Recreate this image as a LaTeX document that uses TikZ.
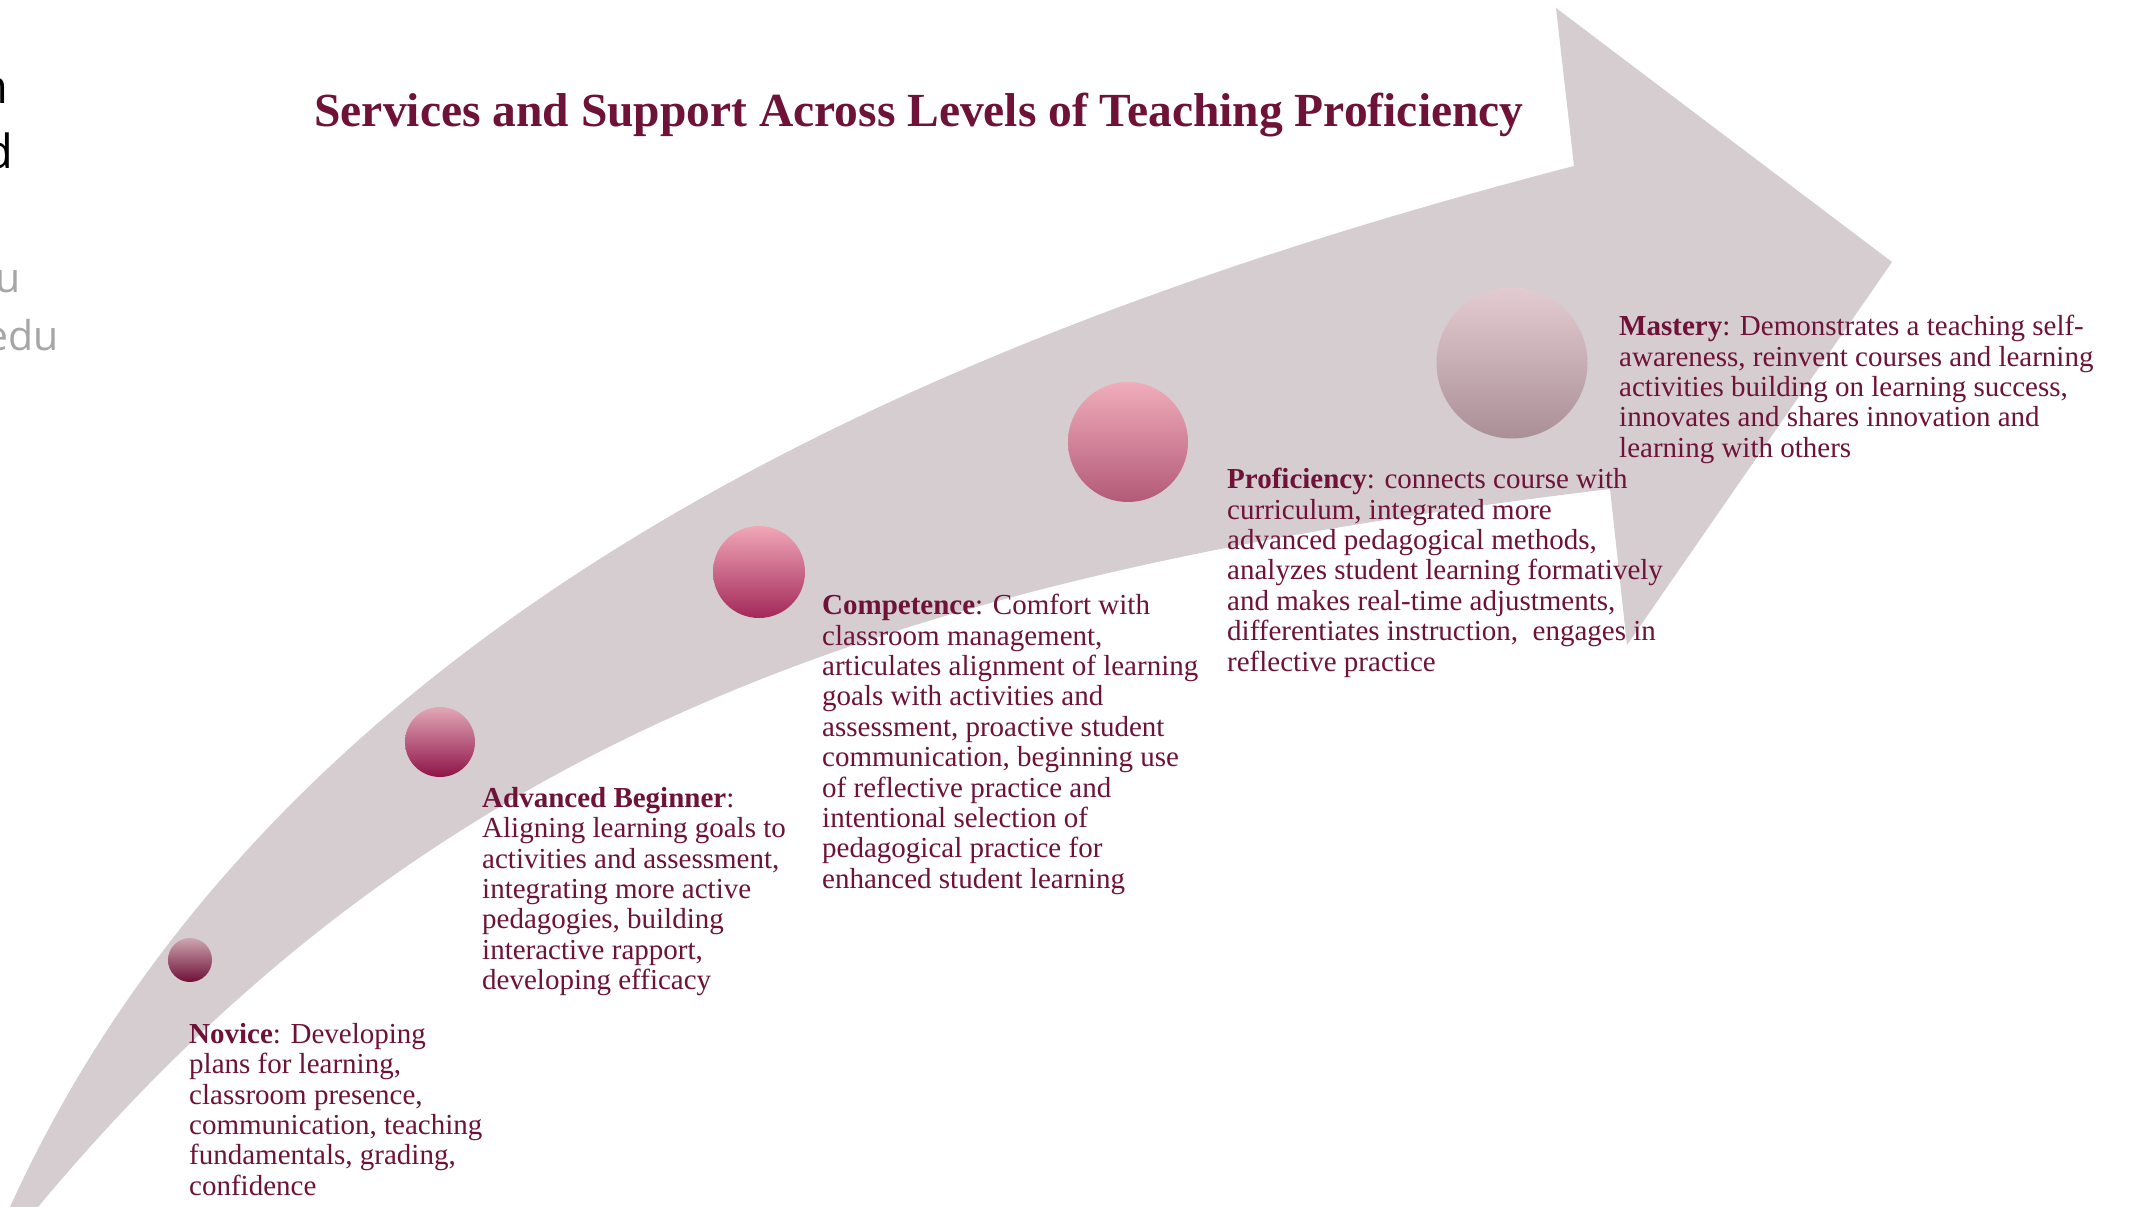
\documentclass[tikz,border=0pt]{standalone}
\usepackage{fontspec}
\setmainfont{Liberation Serif}
\newfontfamily\fragfont{Open Sans}
\usetikzlibrary{positioning}
\definecolor{bandgrey}{HTML}{D5CDD0}
\definecolor{maroontext}{HTML}{6E1237}
\definecolor{fraggrey}{HTML}{A6A6A6}
\definecolor{dotonetop}{HTML}{CDA6B0}
\definecolor{dotonebot}{HTML}{6E0F38}
\definecolor{dottwotop}{HTML}{E2A7B7}
\definecolor{dottwobot}{HTML}{8E1448}
\definecolor{dotthreetop}{HTML}{F0A7B7}
\definecolor{dotthreebot}{HTML}{A3285A}
\definecolor{dotfourtop}{HTML}{F0ADBB}
\definecolor{dotfourbot}{HTML}{B35A78}
\definecolor{dotfivetop}{HTML}{E3CCD1}
\definecolor{dotfivebot}{HTML}{AA8F96}
\tikzset{
  leveltext/.style={anchor=north west, inner sep=0pt, align=left, text=maroontext,
    font=\fontsize{29}{30.4}\selectfont},
  leveldot/.style={circle, inner sep=0pt, draw=none},
  fragblack/.style={anchor=base east, inner sep=0pt, text=black, font=\fragfont\fontsize{47}{47}\selectfont},
  fraggray/.style={anchor=base east, inner sep=0pt, text=fraggrey, font=\fragfont\fontsize{41}{41}\selectfont},
}

\begin{document}
\begin{tikzpicture}[x=1pt, y=-1pt]
  % Page frame
  \useasboundingbox (0,0) rectangle (2131,1207);
  \fill[white] (0,0) rectangle (2131,1207);

  % Clipped text at the left edge
  \node[fragblack] (fragn) at (9,103) {n};
  \node[fragblack] (fragd) at (14,168) {d};
  \node[fraggray] (fragu) at (21,292) {u};
  \node[fraggray] (fragedu) at (59,350) {edu};

  % Curved arrow band with its head
  \fill[bandgrey] (10,1207) .. controls (280,613) and (934,332) .. (1574,166)
    -- (1556,8) -- (1892,262) -- (1627,645) -- (1610,489)
    .. controls (910,573) and (438,727) .. (38,1207) -- cycle;

  % Title
  \node[anchor=base, inner sep=0pt, text=maroontext, font=\fontsize{47.5}{50}\selectfont\bfseries] (title) at (919,126)
    {Services and Support Across Levels of Teaching Proficiency};

  % Level markers
  \node[leveldot, minimum size=44pt, top color=dotonetop, bottom color=dotonebot] (novicedot) at (190,960) {};
  \node[leveldot, minimum size=70pt, top color=dottwotop, bottom color=dottwobot] (advbegdot) at (440,742) {};
  \node[leveldot, minimum size=92pt, top color=dotthreetop, bottom color=dotthreebot] (competdot) at (759,572) {};
  \node[leveldot, minimum size=120pt, top color=dotfourtop, bottom color=dotfourbot] (proficdot) at (1128,442) {};
  \node[leveldot, minimum size=151pt, top color=dotfivetop, bottom color=dotfivebot] (masterydot) at (1512,363) {};

  % Level descriptions
  \node[leveltext] (novice) at (189,1023) {\textbf{Novice}: Developing\\plans for learning,\\classroom presence,\\communication, teaching\\fundamentals, grading,\\confidence};
  \node[leveltext] (advbeg) at (482,787) {\textbf{Advanced Beginner}:\\Aligning learning goals to\\activities and assessment,\\integrating more active\\pedagogies, building\\interactive rapport,\\developing efficacy};
  \node[leveltext] (compet) at (822,594) {\textbf{Competence}: Comfort with\\classroom management,\\articulates alignment of learning\\goals with activities and\\assessment, proactive student\\communication, beginning use\\of reflective practice and\\intentional selection of\\pedagogical practice for\\enhanced student learning};
  \node[leveltext] (profic) at (1227,468) {\textbf{Proficiency}: connects course with\\curriculum, integrated more\\advanced pedagogical methods,\\analyzes student learning formatively\\and makes real-time adjustments,\\differentiates instruction,\ \ engages in\\reflective practice};
  \node[leveltext] (mastery) at (1619,315) {\textbf{Mastery}: Demonstrates a teaching self-\\awareness, reinvent courses and learning\\activities building on learning success,\\innovates and shares innovation and\\learning with others};
\end{tikzpicture}
\end{document}
